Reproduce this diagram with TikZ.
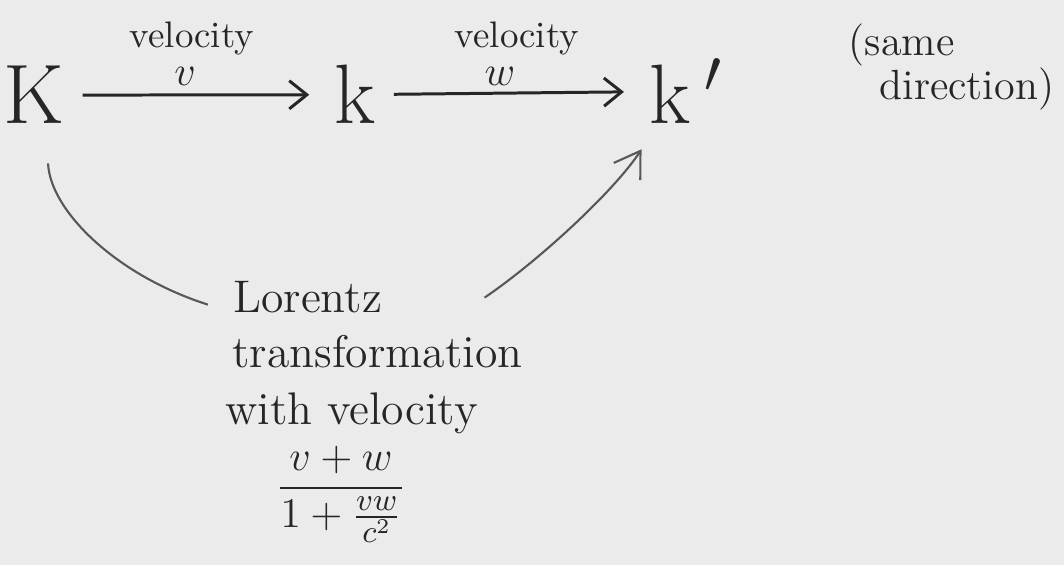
\documentclass[tikz,border=0pt]{standalone}
\usepackage{amsmath}
\usepackage{xcolor}
\usepackage{tikz}
\usetikzlibrary{arrows.meta}
\definecolor{figbg}{RGB}{235,235,235}
\definecolor{figink}{RGB}{38,38,38}
\definecolor{figarc}{RGB}{88,88,88}
\tikzset{
  frm/.style  ={font=\fontsize{24}{28}\selectfont, text=figink, anchor=base, inner sep=3pt},
  lab/.style  ={font=\fontsize{10.5}{12}\selectfont, text=figink, inner sep=0.5pt},
  labv/.style ={font=\fontsize{12}{14}\selectfont, text=figink, inner sep=0.5pt},
  note/.style ={font=\fontsize{13}{15}\selectfont, text=figink, anchor=base west, inner sep=3pt},
  fracl/.style={font=\fontsize{13}{15}\selectfont, text=figink, inner sep=1pt},
  dirn/.style ={font=\fontsize{12}{12.7}\selectfont, text=figink, align=left, anchor=north west, inner sep=0pt},
  boost/.style={draw=figink, line width=0.85pt, shorten <=2pt, shorten >=4pt,
                -{Straight Barb[length=5pt,width=8pt]}},
  lor/.style  ={draw=figarc, line width=0.6pt},
}

\begin{document}
\begin{tikzpicture}[x=0.01cm,y=-0.01cm]
  \useasboundingbox (0,0) rectangle (1064,565);
  \fill[figbg] (0,0) rectangle (1064,565);
  \node[frm] (K) at (34,124) {K};
  \node[frm] (k) at (355,124) {k};
  \node[frm] (kp) at (686,124) {k\,$'$};
  \node[lab] (vel1) at (192,38) {velocity};
  \node[labv] (v1) at (185,76) {$v$};
  \node[lab] (vel2) at (517,38) {velocity};
  \node[labv] (w1) at (500,76) {$w$};
  \node[dirn] (dir) at (848,23) {(same\\\hspace{8.8pt}direction)};
  \draw[boost] (K) -- (k);
  \draw[boost] (k) -- (kp);
  \node[note] (lor1) at (222,313) {Lorentz};
  \node[note] (lor2) at (221,368) {transformation};
  \node[note] (lor3) at (214,425) {with velocity};
  \node[fracl] (frac) at (341,494) {$\displaystyle\frac{v+w}{1+\frac{vw}{c^2}}$};
  \draw[lor] ([xshift=4pt,yshift=-8pt]K.south) .. controls (50,210) and (115,275) .. ([xshift=-4pt,yshift=-2pt]lor1.west);
  \draw[lor,-{Straight Barb[length=7pt,width=9pt]}] ([xshift=26pt]lor1.east) .. controls (540,260) and (615,190) .. ([xshift=1pt,yshift=-4pt]kp.south west);
\end{tikzpicture}
\end{document}
